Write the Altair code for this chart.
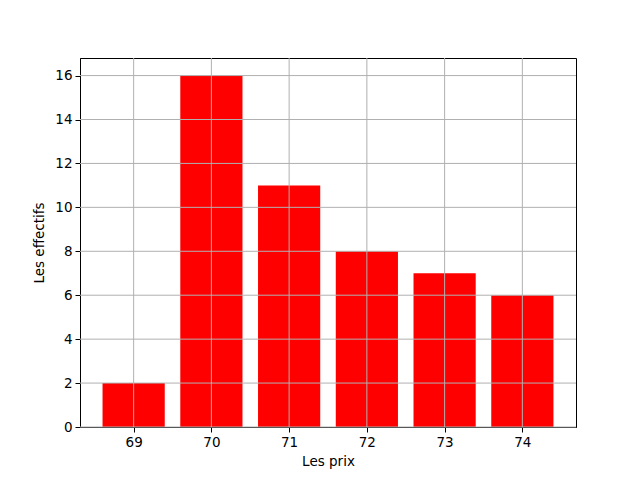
import altair as alt
import pandas as pd

prix = [69, 70, 71, 72, 73, 74]
effectifs = [2, 16, 11, 8, 7, 6]
y_ticks = [0, 2, 4, 6, 8, 10, 12, 14, 16]

df = pd.DataFrame({"prix": prix, "effectifs": effectifs})
df["x0"] = df["prix"] - 0.4
df["x1"] = df["prix"] + 0.4

font = "DejaVu Sans"
xscale = alt.Scale(domain=[68.31, 74.69], nice=False, zero=False)
yscale = alt.Scale(domain=[0, 16.8], nice=False)

bars = alt.Chart(df).mark_rect(color="#ff0000").encode(
    x=alt.X("x0:Q", scale=xscale,
            axis=alt.Axis(values=prix, format="d", title="Les prix", grid=False)),
    x2="x1:Q",
    y=alt.Y("effectifs:Q", scale=yscale,
            axis=alt.Axis(values=y_ticks, title="Les effectifs", grid=False)),
    y2=alt.datum(0),
)

vgrid = alt.Chart(pd.DataFrame({"p": prix})).mark_rule(color="#b0b0b0", strokeWidth=1).encode(
    x=alt.X("p:Q", scale=xscale)
)
hgrid = alt.Chart(pd.DataFrame({"t": y_ticks})).mark_rule(color="#b0b0b0", strokeWidth=1).encode(
    y=alt.Y("t:Q", scale=yscale)
)

chart = alt.layer(bars, vgrid, hgrid).properties(
    width=496, height=369,
    autosize=alt.AutoSizeParams(type="none"),
    padding={"left": 72, "top": 50, "right": 56, "bottom": 45},
).configure_view(
    stroke="black", strokeWidth=1
).configure_axis(
    domainColor="black", tickColor="black", tickSize=5,
    labelFont=font, labelFontSize=13.5, labelColor="black", labelPadding=3,
    titleFont=font, titleFontSize=13.5, titleFontWeight="normal", titleColor="black",
).configure_axisX(titlePadding=6).configure_axisY(titlePadding=8)

chart.save("out.html", embed_options={"renderer": "svg", "actions": False})
